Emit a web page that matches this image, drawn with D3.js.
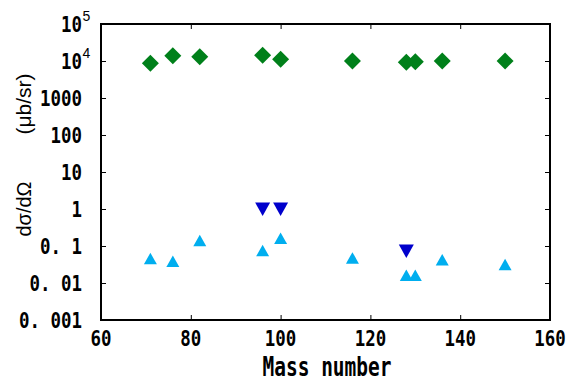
<!DOCTYPE html>
<html><head><meta charset="utf-8">
<script src="https://cdnjs.cloudflare.com/ajax/libs/d3/7.8.5/d3.min.js"></script>
<style>body{margin:0;background:#fff}svg{display:block}</style>
</head><body>
<svg id="chart" width="571" height="381"></svg>
<script>
const massNumbers = [71, 76, 82, 96, 100, 116, 128, 130, 136, 150];
const greenValues = [8700, 13900, 13100, 14200, 11100, 10000, 9200, 9600, 10000, 10000];
const lightBlueValues = [0.045, 0.038, 0.139, 0.074, 0.160, 0.047, 0.016, 0.016, 0.042, 0.031];
const darkBlueMass = [96, 100, 128];
const darkBlueValues = [1.0, 1.0, 0.073];
const xTicks = [60, 80, 100, 120, 140, 160];
const yTicks = [1e-3, 1e-2, 1e-1, 1, 10, 100, 1000, 1e4, 1e5];
const yTickLabels = [["0. 001"], ["0. 01"], ["0. 1"], ["1"], ["10"], ["100"], ["1000"], ["10", "4"], ["10", "5"]];
const xLabel = "Mass number";
const yLabelA = "dσ/dΩ";
const yLabelB = "(μb/sr)";

const L = 101, R = 550, T = 24, B = 320;
const svg = d3.select("#chart");
const x = d3.scaleLinear().domain([60, 160]).range([L, R]);
const y = d3.scaleLog().domain([1e-3, 1e5]).range([B, T]);

function axisStyle(g) {
  g.select(".domain").remove();
  g.selectAll("line").attr("stroke", "#000").attr("stroke-width", 1);
}
svg.append("g").attr("transform", `translate(0,${B})`)
  .call(d3.axisBottom(x).tickValues(xTicks).tickSize(-5).tickFormat("")).call(axisStyle);
svg.append("g").attr("transform", `translate(0,${T})`)
  .call(d3.axisTop(x).tickValues(xTicks).tickSize(-5).tickFormat("")).call(axisStyle);
svg.append("g").attr("transform", `translate(${L},0)`)
  .call(d3.axisLeft(y).tickValues(yTicks).tickSize(-5).tickFormat("")).call(axisStyle);
svg.append("g").attr("transform", `translate(${R},0)`)
  .call(d3.axisRight(y).tickValues(yTicks).tickSize(-5).tickFormat("")).call(axisStyle);

svg.append("rect").attr("x", L).attr("y", T).attr("width", R - L).attr("height", B - T)
  .attr("fill", "none").attr("stroke", "#000").attr("stroke-width", 2);

const tickFont = "'DejaVu Sans Mono', monospace";
const cw = 10.5;
// x tick labels
svg.append("g").selectAll("text").data(xTicks).join("text")
  .attr("x", d => x(d)).attr("y", 346)
  .attr("text-anchor", "middle")
  .attr("font-family", tickFont).attr("font-size", 22).attr("font-weight", "bold")
  .attr("textLength", d => String(d).length * cw).attr("lengthAdjust", "spacingAndGlyphs")
  .text(d => d);

// y tick labels
const yl = svg.append("g");
yTicks.forEach((v, i) => {
  const parts = yTickLabels[i];
  const main = parts[0];
  const yy = y(v) + 8;
  const right = 82;
  yl.append("text")
    .attr("x", right - main.length * cw).attr("y", yy)
    .attr("font-family", tickFont).attr("font-size", 22).attr("font-weight", "bold")
    .attr("textLength", main.length * cw).attr("lengthAdjust", "spacingAndGlyphs")
    .text(main);
  if (parts[1]) {
    yl.append("text")
      .attr("x", right + 0.5).attr("y", yy - 11)
      .attr("font-family", "'Liberation Sans', Arial, sans-serif").attr("font-size", 14)
      .text(parts[1]);
  }
});

// axis titles
svg.append("text").attr("x", 327).attr("y", 376).attr("text-anchor", "middle")
  .attr("font-family", tickFont).attr("font-size", 26).attr("font-weight", "bold")
  .attr("textLength", 129).attr("lengthAdjust", "spacingAndGlyphs")
  .text(xLabel);
const labFont = "'Liberation Sans', Arial, sans-serif";
svg.append("text").attr("transform", "translate(31,209) rotate(-90)")
  .attr("text-anchor", "middle").attr("font-family", labFont).attr("font-size", 20)
  .text(yLabelA);
svg.append("text").attr("transform", "translate(31,104) rotate(-90)")
  .attr("text-anchor", "middle").attr("font-family", labFont).attr("font-size", 21)
  .text(yLabelB);

// markers
const diamond = "M0,-8.5L8.5,0L0,8.5L-8.5,0Z";
const triUp = "M0,-6L6.5,5.5L-6.5,5.5Z";
const triDown = "M0,7L7.5,-6.5L-7.5,-6.5Z";
const plot = svg.append("g");
plot.selectAll(".g").data(massNumbers).join("path")
  .attr("d", diamond).attr("fill", "#00801a")
  .attr("transform", (d, i) => `translate(${x(d)},${y(greenValues[i])})`);
plot.selectAll(".lb").data(massNumbers).join("path")
  .attr("d", triUp).attr("fill", "#00aeef")
  .attr("transform", (d, i) => `translate(${x(d)},${y(lightBlueValues[i])})`);
plot.selectAll(".db").data(darkBlueMass).join("path")
  .attr("d", triDown).attr("fill", "#0000cc")
  .attr("transform", (d, i) => `translate(${x(d)},${y(darkBlueValues[i])})`);
</script>
</body></html>
